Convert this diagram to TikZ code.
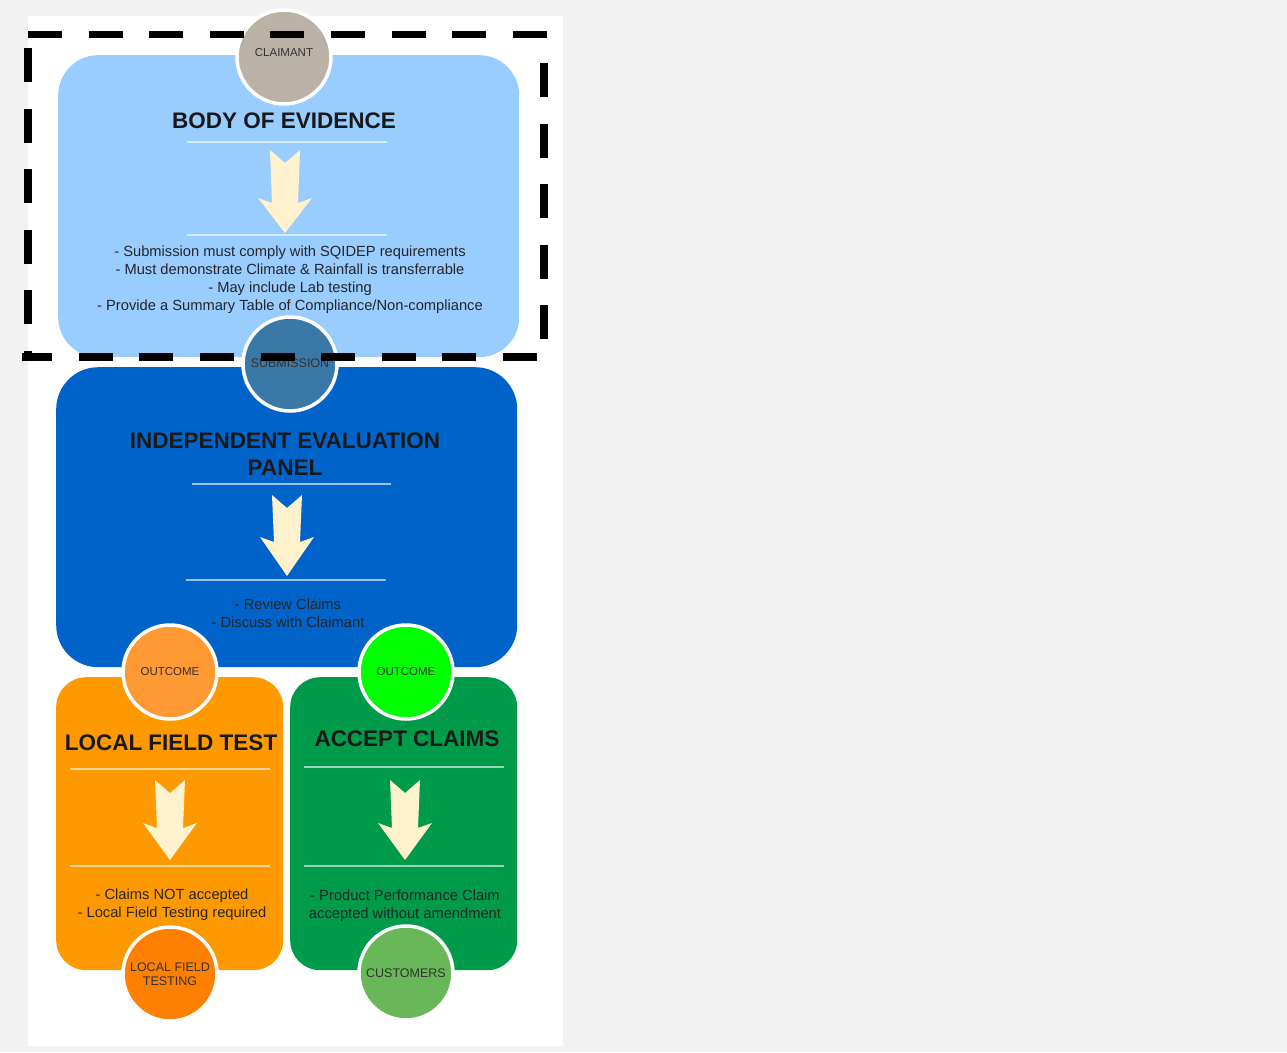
\documentclass[tikz,border=0pt]{standalone}
\usepackage{fontspec}
\setmainfont{Liberation Sans}
\begin{document}
\begin{tikzpicture}[x=1pt,y=-1pt,
  panel/.style={rounded corners=#1, inner sep=0pt, anchor=north west},
  badge/.style={circle, draw=white, line width=3.5pt, minimum size=94pt, inner sep=0pt, font=\fontsize{12.5}{14}\selectfont, text=black!80, align=center},
  small/.style={font=\fontsize{11.5}{13}\selectfont},
  ttl/.style={font=\bfseries\fontsize{22.5}{27}\selectfont, text=black!90, align=center},
  body/.style={font=\fontsize{14.7}{18}\selectfont, text=black!85, align=center},
  sep/.style={draw=white, opacity=0.6, line width=1.5pt},
  frame/.style={black, line width=7.5pt, dash pattern=on 34pt off 26.6pt}
]
\definecolor{bgc}{HTML}{F2F2F2}
\definecolor{lblue}{HTML}{99CCFF}
\definecolor{dblue}{HTML}{0063C9}
\definecolor{orng}{HTML}{FF9900}
\definecolor{grn}{HTML}{009A4B}
\definecolor{claim}{HTML}{BAB2A6}
\definecolor{subm}{HTML}{3A78A8}
\definecolor{oc1}{HTML}{FF9933}
\definecolor{oc2}{HTML}{00FF00}
\definecolor{lft}{HTML}{FF7F00}
\definecolor{cust}{HTML}{68B85A}
\definecolor{crm}{HTML}{FFF2CC}
\useasboundingbox (0,0) rectangle (1287,1052);
\fill[bgc] (0,0) rectangle (1287,1052);
\fill[white] (28,16) rectangle (563,1046);
% boxes
\node[panel=40pt, fill=lblue, minimum width=461pt, minimum height=302pt] (boe) at (58,55) {};
\node[panel=42pt, fill=dblue, minimum width=461pt, minimum height=300pt] (iep) at (56,367) {};
\node[panel=30pt, fill=orng, minimum width=227pt, minimum height=293pt] (lft) at (56,677) {};
\node[panel=30pt, fill=grn, minimum width=227pt, minimum height=293pt] (acc) at (290,677) {};
% titles
\node[ttl] (t1) at (284,121) {BODY OF EVIDENCE};
\node[ttl] (t2) at (285,454) {INDEPENDENT EVALUATION\\PANEL};
\node[ttl] (t3) at (171,743) {LOCAL FIELD TEST};
\node[ttl] (t4) at (407,739) {ACCEPT CLAIMS};
% separators
\draw[sep] (187,142) -- (387,142);
\draw[sep] (187,235) -- (387,235);
\draw[sep] (192,484) -- (391,484);
\draw[sep] (186,580) -- (386,580);
\draw[sep] (70,769) -- (270,769);
\draw[sep] (70,866) -- (270,866);
\draw[sep] (304,767) -- (504,767);
\draw[sep] (304,866) -- (504,866);
% arrows
\foreach \cx/\T/\H/\tip in {285/150/198/233, 287/495/537/576, 170/780/823/860, 405/780/823/860}{
  \fill[crm] (\cx-15,\T) -- (\cx,\T+13) -- (\cx+15,\T) -- (\cx+13,\H+5) -- (\cx+27,\H) -- (\cx,\tip) -- (\cx-27,\H) -- (\cx-13,\H+5) -- cycle;
}
% body texts
\node[body] (b1) at (290,280) {- Submission must comply with SQIDEP requirements\\- Must demonstrate Climate \& Rainfall is transferrable\\- May include Lab testing\\- Provide a Summary Table of Compliance/Non-compliance};
\node[body] (b2) at (288,613) {- Review Claims\\- Discuss with Claimant};
\node[body] (b3) at (172,905) {- Claims NOT accepted\\- Local Field Testing required};
\node[body] (b4) at (405,906) {- Product Performance Claim\\accepted without amendment};
% badges
\node[badge, small, fill=claim] (c1) at (284,57) {\raisebox{9pt}{CLAIMANT}};
\node[badge, fill=subm] (c2) at (290,364) {\raisebox{2pt}{SUBMISSION}};
\node[badge, small, fill=oc1] (c3) at (170,672) {OUTCOME};
\node[badge, small, fill=oc2] (c4) at (406,672) {OUTCOME};
\node[badge, fill=lft] (c5) at (170,974) {LOCAL FIELD\\TESTING};
\node[badge, fill=cust] (c6) at (406,973) {CUSTOMERS};
% dashed frame
\draw[frame] (28,34.5) -- (548,34.5);
\draw[frame] (544,63) -- (544,340);
\draw[frame] (537,357) -- (22,357);
\draw[frame] (28,48) -- (28,357);
\end{tikzpicture}
\end{document}
